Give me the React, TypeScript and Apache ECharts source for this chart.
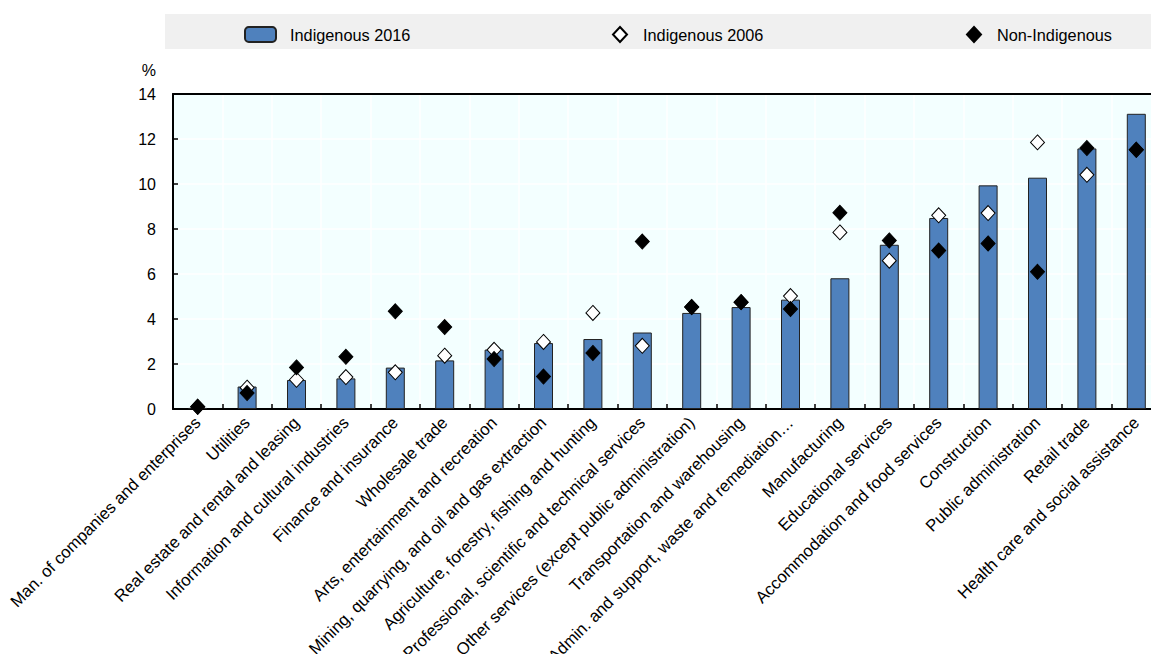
import React, { useEffect, useRef } from "react";
import * as echarts from "echarts";

const categories = [
  "Man. of companies and enterprises",
  "Utilities",
  "Real estate and rental and leasing",
  "Information and cultural industries",
  "Finance and insurance",
  "Wholesale trade",
  "Arts, entertainment and recreation",
  "Mining, quarrying, and oil and gas extraction",
  "Agriculture, forestry, fishing and hunting",
  "Professional, scientific and technical services",
  "Other services (except public administration)",
  "Transportation and warehousing",
  "Admin. and support, waste and remediation…",
  "Manufacturing",
  "Educational services",
  "Accommodation and food services",
  "Construction",
  "Public administration",
  "Retail trade",
  "Health care and social assistance",
];

const indigenous2016 = [0.05, 1.0, 1.29, 1.36, 1.84, 2.16, 2.64, 2.93, 3.11, 3.4, 4.27, 4.53, 4.86, 5.81, 7.3, 8.49, 9.94, 10.28, 11.58, 13.12];
const indigenous2006 = [0.1, 0.95, 1.3, 1.42, 1.63, 2.37, 2.63, 2.98, 4.27, 2.81, 4.53, 4.75, 5.02, 7.85, 6.59, 8.61, 8.71, 11.85, 10.41, 11.52];
const nonIndigenous = [0.1, 0.71, 1.85, 2.32, 4.34, 3.64, 2.22, 1.44, 2.49, 7.44, 4.53, 4.75, 4.44, 8.72, 7.49, 7.04, 7.36, 6.1, 11.6, 11.52];

const yTicks = { min: 0, max: 14, interval: 2 };

const FONT = "'Liberation Sans', Arial, sans-serif";

export default function App() {
  const ref = useRef<HTMLDivElement>(null);

  useEffect(() => {
    if (!ref.current) return;
    const chart = echarts.init(ref.current, undefined, { renderer: "svg" });
    const legendText = { fontFamily: FONT, fontSize: 16.3, color: "#000", padding: [0, 0, 0, 9] };
    chart.setOption({
      animation: false,
      graphic: [
        {
          type: "rect",
          shape: { x: 165, y: 14, width: 986, height: 35 },
          style: { fill: "#F0F0F0" },
          silent: true,
          z: -10,
        },
      ],
      legend: [
        {
          data: ["Indigenous 2016"],
          left: 244,
          top: 26,
          padding: 0,
          itemWidth: 31,
          itemHeight: 15,
          textStyle: legendText,
        },
        {
          data: ["Indigenous 2006"],
          left: 612,
          top: 26,
          padding: 0,
          itemWidth: 14,
          itemHeight: 15,
          textStyle: { ...legendText, padding: [0, 0, 0, 11] },
        },
        {
          data: ["Non-Indigenous"],
          left: 966,
          top: 26,
          padding: 0,
          itemWidth: 14,
          itemHeight: 15,
          textStyle: { ...legendText, padding: [0, 0, 0, 11] },
        },
      ],
      grid: {
        left: 173,
        width: 988,
        top: 94,
        bottom: 245,
        outerBoundsMode: "none",
        containLabel: false,
        show: true,
        backgroundColor: "#F3FFFF",
        borderWidth: 0,
      },
      xAxis: [
        {
          type: "category",
          data: categories,
          boundaryGap: true,
          axisLine: { lineStyle: { color: "#000", width: 2 } },
          axisTick: { show: true, inside: true, length: 5, lineStyle: { color: "#000", width: 1.5 } },
          splitLine: { show: true, lineStyle: { color: "#FFFFFF", width: 1.5 } },
          axisLabel: {
            interval: 0,
            rotate: 45,
            margin: 11,
            fontFamily: FONT,
            fontSize: 16.7,
            color: "#000",
          },
        },
        {
          type: "category",
          data: categories,
          position: "top",
          axisLine: { lineStyle: { color: "#000", width: 2 } },
          axisTick: { show: false },
          axisLabel: { show: false },
          splitLine: { show: false },
        },
      ],
      yAxis: {
        type: "value",
        min: yTicks.min,
        max: yTicks.max,
        interval: yTicks.interval,
        name: "%",
        nameLocation: "end",
        nameGap: 16,
        nameTextStyle: { fontFamily: FONT, fontSize: 16, color: "#000", align: "right", padding: [0, 17, 0, 0] },
        axisLine: { show: true, lineStyle: { color: "#000", width: 2 } },
        axisTick: { show: true, inside: true, length: 5, lineStyle: { color: "#000", width: 1.5 } },
        splitLine: { show: true, lineStyle: { color: "#FFFFFF", width: 1.5 } },
        axisLabel: { margin: 17, fontFamily: FONT, fontSize: 16, color: "#000" },
      },
      series: [
        {
          name: "Indigenous 2016",
          type: "bar",
          data: indigenous2016,
          barWidth: 19,
          itemStyle: { color: "#4F81BD", borderColor: "#222", borderWidth: 1 },
          z: 2,
        },
        {
          name: "Indigenous 2006",
          type: "scatter",
          data: indigenous2006,
          symbol: "diamond",
          symbolSize: [14, 15],
          itemStyle: { color: "#FFFFFF", borderColor: "#000", borderWidth: 1, opacity: 1 },
          z: 3,
        },
        {
          name: "Non-Indigenous",
          type: "scatter",
          data: nonIndigenous,
          symbol: "diamond",
          symbolSize: [14, 15],
          itemStyle: { color: "#000000", borderColor: "#000", borderWidth: 1, opacity: 1 },
          z: 4,
        },
      ],
    });
    return () => chart.dispose();
  }, []);

  return (
    <div
      ref={ref}
      style={{ position: "fixed", left: 0, top: 0, width: 1151, height: 654, background: "#fff", overflow: "hidden" }}
    />
  );
}
